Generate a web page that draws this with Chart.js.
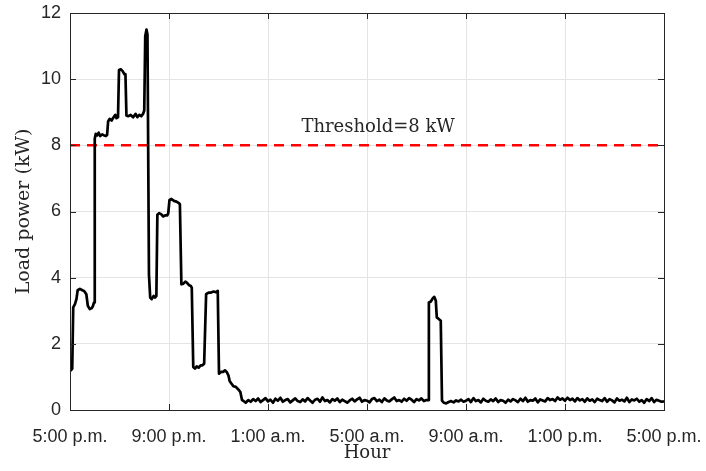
<!DOCTYPE html>
<html>
<head>
<meta charset="utf-8">
<title>Load power</title>
<script src="https://cdn.jsdelivr.net/npm/chart.js@4.4.1/dist/chart.umd.min.js"></script>
<style>
  html, body { margin: 0; padding: 0; background: #ffffff; }
  #wrap { width: 706px; height: 471px; }
</style>
</head>
<body>
<div id="wrap"><canvas id="chart" width="706" height="471"></canvas></div>
<script>
// Hour axis: hours elapsed since 5:00 p.m., one label every 4 hours
const hourLabels = ['5:00 p.m.', '9:00 p.m.', '1:00 a.m.', '5:00 a.m.', '9:00 a.m.', '1:00 p.m.', '5:00 p.m.'];
const loadTicks = [0, 2, 4, 6, 8, 10, 12];
const thresholdKW = 8;

// Evening: appliances switching on and off (hours, kW)
const eveningHours = [0.00, 0.04, 0.09, 0.13, 0.20, 0.26, 0.31, 0.40, 0.50, 0.57, 0.66, 0.72, 0.80, 0.88, 0.93, 0.97,
  1.00, 1.04, 1.10, 1.16, 1.22, 1.30, 1.38, 1.45, 1.50, 1.54, 1.60, 1.68, 1.76, 1.83, 1.88, 1.94,
  1.98, 2.05, 2.12, 2.20, 2.24, 2.28, 2.35, 2.45, 2.55, 2.65, 2.72, 2.80, 2.88, 2.95, 3.00,
  3.04, 3.09, 3.13, 3.19, 3.24, 3.30, 3.38, 3.44, 3.49, 3.53, 3.60, 3.68, 3.76, 3.84, 3.93, 3.97,
  4.02, 4.10, 4.20, 4.30, 4.40, 4.44, 4.50, 4.58, 4.66, 4.72, 4.80, 4.88, 4.92,
  4.98, 5.05, 5.12, 5.20, 5.28, 5.35, 5.42, 5.50, 5.60, 5.70, 5.80, 5.90, 5.97,
  6.02, 6.10, 6.18, 6.26, 6.33, 6.40, 6.45, 6.52, 6.60, 6.70, 6.80, 6.88, 6.95];
const eveningLoad = [1.30, 1.20, 1.25, 3.10, 3.20, 3.35, 3.62, 3.66, 3.62, 3.60, 3.50, 3.15, 3.05, 3.08, 3.15, 3.25,
  8.20, 8.35, 8.30, 8.38, 8.28, 8.33, 8.30, 8.28, 8.32, 8.72, 8.80, 8.75, 8.85, 8.92, 8.82, 8.85,
  10.28, 10.30, 10.25, 10.15, 10.15, 8.90, 8.88, 8.92, 8.85, 8.95, 8.85, 8.92, 8.88, 8.95, 9.05,
  11.30, 11.50, 11.35, 4.10, 3.40, 3.35, 3.45, 3.40, 3.45, 5.90, 5.95, 5.92, 5.85, 5.88, 5.88, 5.95,
  6.35, 6.38, 6.32, 6.30, 6.25, 6.22, 3.80, 3.82, 3.88, 3.85, 3.78, 3.75, 3.70,
  1.30, 1.25, 1.32, 1.28, 1.35, 1.35, 1.40, 3.50, 3.55, 3.55, 3.58, 3.56, 3.60,
  1.10, 1.15, 1.15, 1.20, 1.15, 1.05, 0.88, 0.80, 0.72, 0.70, 0.62, 0.55, 0.30];

// Overnight base load, sampled every 6 minutes from 7.0 h to 14.4 h
const nightStart = 7.0;
const nightLoad = [0.28, 0.22, 0.30, 0.25, 0.33, 0.27, 0.35, 0.24, 0.30, 0.36, 0.26, 0.31, 0.22, 0.34, 0.28, 0.37, 0.25, 0.30, 0.33, 0.23,
  0.29, 0.35, 0.27, 0.24, 0.32, 0.26, 0.36, 0.29, 0.22, 0.31, 0.34, 0.25, 0.38, 0.27, 0.30, 0.23, 0.33, 0.28, 0.35, 0.24,
  0.31, 0.27, 0.22, 0.29, 0.34, 0.26, 0.32, 0.37, 0.25, 0.30, 0.28, 0.23, 0.33, 0.36, 0.27, 0.31, 0.24, 0.35, 0.29, 0.26,
  0.32, 0.38, 0.27, 0.30, 0.25, 0.34, 0.28, 0.36, 0.31, 0.24, 0.33, 0.29, 0.35, 0.27, 0.30];

// Morning burst (hours, kW)
const morningHours = [14.47, 14.50, 14.58, 14.66, 14.72, 14.78, 14.82, 14.90, 14.98, 15.03];
const morningLoad = [0.30, 3.25, 3.28, 3.38, 3.42, 3.30, 2.80, 2.75, 2.70, 0.28];

// Daytime base load, sampled every 6 minutes from 15.1 h to 24.0 h
const dayStart = 15.1;
const dayLoad = [0.22, 0.20, 0.24, 0.27, 0.23, 0.29, 0.26, 0.31, 0.25, 0.28,
  0.33, 0.24, 0.36, 0.27, 0.30, 0.23, 0.34, 0.28, 0.25, 0.32,
  0.27, 0.35, 0.24, 0.30, 0.28, 0.22, 0.31, 0.26, 0.33, 0.29,
  0.24, 0.34, 0.27, 0.37, 0.25, 0.30, 0.28, 0.35, 0.23, 0.32,
  0.29, 0.26, 0.36, 0.30, 0.33, 0.27, 0.38, 0.31, 0.35, 0.28,
  0.37, 0.30, 0.34, 0.26, 0.36, 0.29, 0.33, 0.25, 0.35, 0.28,
  0.32, 0.24, 0.34, 0.30, 0.27, 0.36, 0.25, 0.33, 0.29, 0.23,
  0.35, 0.28, 0.31, 0.26, 0.37, 0.24, 0.32, 0.29, 0.34, 0.25,
  0.30, 0.22, 0.33, 0.27, 0.36, 0.24, 0.31, 0.28, 0.25, 0.26];
const sampleStep = 0.1;

// Assemble the full profile as {x: hour, y: kW}
const profile = [];
eveningHours.forEach((h, i) => profile.push({ x: h, y: eveningLoad[i] }));
nightLoad.forEach((v, i) => profile.push({ x: +(nightStart + i * sampleStep).toFixed(2), y: v }));
morningHours.forEach((h, i) => profile.push({ x: h, y: morningLoad[i] }));
dayLoad.forEach((v, i) => profile.push({ x: +(dayStart + i * sampleStep).toFixed(2), y: v }));

const axisInk = '#262626';
const gridInk = '#e4e4e4';
const serif = "'DejaVu Serif', 'Liberation Serif', serif";
const sans = "'Liberation Sans', Arial, sans-serif";

// Box around the plot, inward tick marks on all four sides, threshold caption
const axesBox = {
  id: 'axesBox',
  afterDraw(chart) {
    const { ctx, chartArea: a, scales: { x, y } } = chart;
    const tick = 6;
    ctx.save();
    ctx.strokeStyle = axisInk;
    ctx.lineWidth = 1;
    ctx.beginPath();
    x.ticks.forEach(t => {
      const px = Math.round(x.getPixelForValue(t.value)) + 0.5;
      ctx.moveTo(px, a.bottom); ctx.lineTo(px, a.bottom - tick);
      ctx.moveTo(px, a.top); ctx.lineTo(px, a.top + tick);
    });
    y.ticks.forEach(t => {
      const py = Math.round(y.getPixelForValue(t.value)) + 0.5;
      ctx.moveTo(a.left, py); ctx.lineTo(a.left + tick, py);
      ctx.moveTo(a.right, py); ctx.lineTo(a.right - tick, py);
    });
    ctx.stroke();
    ctx.strokeRect(Math.round(a.left) + 0.5, Math.round(a.top) + 0.5,
                   Math.round(a.right - a.left), Math.round(a.bottom - a.top));

    ctx.fillStyle = axisInk;
    ctx.font = "18px " + serif;
    ctx.textAlign = 'center';
    ctx.textBaseline = 'alphabetic';
    ctx.fillText('Threshold=8 kW', x.getPixelForValue(12.45), y.getPixelForValue(thresholdKW) - 13);
    ctx.restore();
  }
};

new Chart(document.getElementById('chart'), {
  type: 'line',
  data: {
    datasets: [
      {
        label: 'Load power',
        data: profile,
        borderColor: '#000000',
        borderWidth: 2.7,
        pointRadius: 0,
        tension: 0,
        borderJoinStyle: 'round',
        fill: false
      },
      {
        label: 'Threshold',
        data: [{ x: 0, y: thresholdKW }, { x: 24, y: thresholdKW }],
        borderColor: '#ff0000',
        borderWidth: 2.5,
        borderDash: [10, 7],
        pointRadius: 0,
        fill: false
      }
    ]
  },
  options: {
    responsive: false,
    animation: false,
    layout: { padding: { top: 13, right: 42, left: 0, bottom: 0 } },
    plugins: { legend: { display: false }, tooltip: { enabled: false } },
    scales: {
      x: {
        type: 'linear',
        min: 0,
        max: 24,
        afterFit(scale) {
          scale.height = 61;
          scale.paddingLeft = 0;
          scale.paddingRight = 0;
        },
        afterBuildTicks(scale) { scale.ticks = hourLabels.map((_, i) => ({ value: i * 4 })); },
        ticks: {
          autoSkip: false,
          maxRotation: 0,
          padding: 16,
          color: axisInk,
          font: { family: sans, size: 18 },
          callback: (v) => hourLabels[Math.round(v / 4)]
        },
        grid: { color: gridInk, lineWidth: 1, drawTicks: false },
        border: { display: false },
        title: {
          display: true,
          text: 'Hour',
          color: axisInk,
          font: { family: serif, size: 18 },
          padding: { top: 0, bottom: 7 }
        }
      },
      y: {
        min: 0,
        max: 12,
        afterFit(scale) {
          scale.width = 70;
          scale.paddingTop = 0;
          scale.paddingBottom = 0;
        },
        afterBuildTicks(scale) { scale.ticks = loadTicks.map(v => ({ value: v })); },
        ticks: {
          padding: 9,
          color: axisInk,
          font: { family: sans, size: 18 }
        },
        grid: { color: gridInk, lineWidth: 1, drawTicks: false },
        border: { display: false },
        title: {
          display: true,
          text: 'Load power (kW)',
          color: axisInk,
          font: { family: serif, size: 19 },
          padding: { top: 13, bottom: 0 }
        }
      }
    }
  },
  plugins: [axesBox]
});
</script>
</body>
</html>
